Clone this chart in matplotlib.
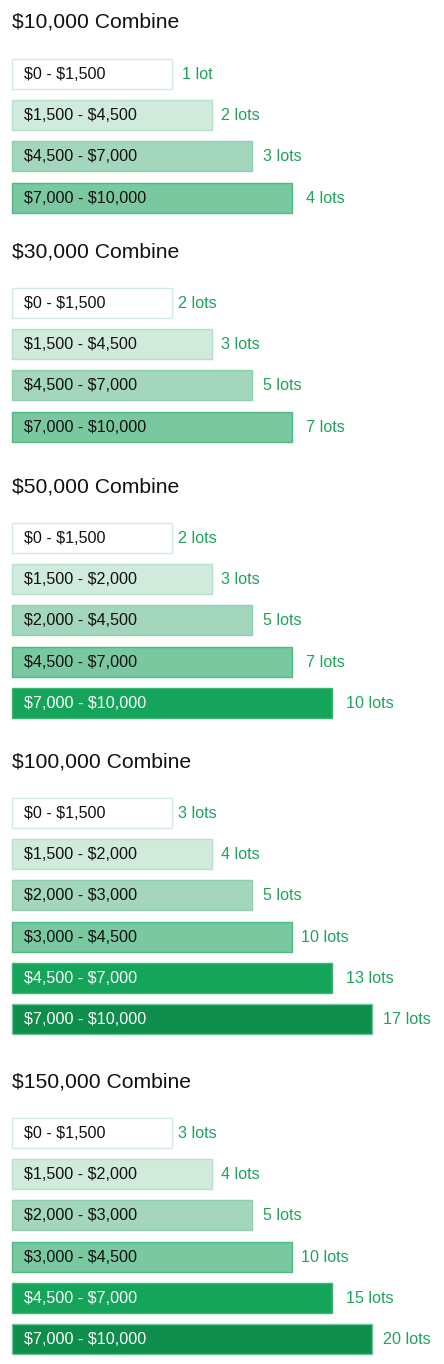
import matplotlib.pyplot as plt

plt.rcParams['font.family'] = ['Liberation Sans', 'DejaVu Sans']
plt.rcParams['text.parse_math'] = False

# data
titles = ["$10,000 Combine", "$30,000 Combine", "$50,000 Combine",
          "$100,000 Combine", "$150,000 Combine"]
ranges = [
    ["$0 - $1,500", "$1,500 - $4,500", "$4,500 - $7,000", "$7,000 - $10,000"],
    ["$0 - $1,500", "$1,500 - $4,500", "$4,500 - $7,000", "$7,000 - $10,000"],
    ["$0 - $1,500", "$1,500 - $2,000", "$2,000 - $4,500", "$4,500 - $7,000",
     "$7,000 - $10,000"],
    ["$0 - $1,500", "$1,500 - $2,000", "$2,000 - $3,000", "$3,000 - $4,500",
     "$4,500 - $7,000", "$7,000 - $10,000"],
    ["$0 - $1,500", "$1,500 - $2,000", "$2,000 - $3,000", "$3,000 - $4,500",
     "$4,500 - $7,000", "$7,000 - $10,000"],
]
lots = [
    [1, 2, 3, 4],
    [2, 3, 5, 7],
    [2, 3, 5, 7, 10],
    [3, 4, 5, 10, 13, 17],
    [3, 4, 5, 10, 15, 20],
]
# colour tier of each bar (index into the palette)
tiers = [
    [0, 1, 2, 3],
    [0, 1, 2, 3],
    [0, 1, 2, 3, 4],
    [0, 1, 2, 3, 4, 5],
    [0, 1, 2, 3, 4, 5],
]

# style
fills = ['#ffffff', '#d0eadc', '#a3d6bc', '#7ac8a0', '#14a55a', '#0f8d4c']
edges = ['#d2ebdf', '#b6e0c9', '#8ecfae', '#4fb883', '#3cb474', '#6cc496']
txt_col = ['#111111', '#111111', '#111111', '#111111', '#ffffff', '#ffffff']
lab_off = [25, 28, 30, 33, 38, 35]
green = '#1fa35c'

title_y = [22, 252, 487, 762, 1082]
first_bar = [59, 288, 523, 798, 1118]
pitch = 41.2
bar_h = 30
x0 = 12

fig = plt.figure(figsize=(4.44, 13.64), dpi=100)
ax = fig.add_axes([0, 0, 1, 1])
ax.set_xlim(0, 444)
ax.set_ylim(1364, 0)
ax.axis('off')

for g in range(len(titles)):
    ax.text(x0, title_y[g], titles[g], fontsize=15.2, color='#111111',
            ha='left', va='center')
    ys = [first_bar[g] + i * pitch for i in range(len(lots[g]))]
    widths = [160 + 40 * t for t in tiers[g]]
    ax.barh(ys, widths, left=x0, height=bar_h, align='edge',
            color=[fills[t] for t in tiers[g]],
            edgecolor=[edges[t] for t in tiers[g]], linewidth=1.0)
    for y, w, t, r, n in zip(ys, widths, tiers[g], ranges[g], lots[g]):
        ax.text(x0 + 12, y + bar_h / 2 + 0.5, r, fontsize=11.6,
                color=txt_col[t], ha='left', va='center')
        lab = f"{n} lot" if n == 1 else f"{n} lots"
        ax.text(x0 + w + lab_off[t], y + bar_h / 2 + 0.5, lab, fontsize=11.6,
                color=green, ha='center', va='center')

fig.savefig('out.png', dpi=100)
